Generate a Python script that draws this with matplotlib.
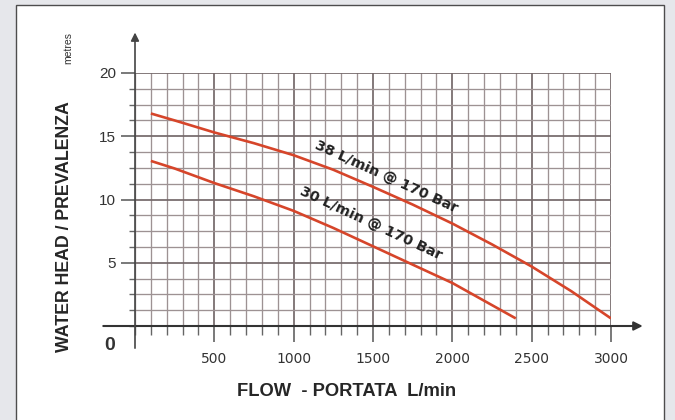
import matplotlib
matplotlib.use("Agg")
import matplotlib.pyplot as plt
from matplotlib.patches import Rectangle
import numpy as np

# ---- data ----
flow_38 = [100, 250, 500, 750, 1000, 1250, 1500, 1750, 2000, 2250, 2500, 2750, 3000]
head_38 = [16.8, 16.25, 15.3, 14.45, 13.5, 12.35, 11.0, 9.6, 8.1, 6.45, 4.7, 2.75, 0.6]

flow_30 = [100, 250, 500, 750, 1000, 1250, 1500, 1750, 2000, 2200, 2400]
head_30 = [13.05, 12.45, 11.3, 10.25, 9.1, 7.75, 6.3, 4.85, 3.4, 2.0, 0.6]

label_38 = "38 L/min @ 170 Bar"
label_30 = "30 L/min @ 170 Bar"

x_major = [500, 1000, 1500, 2000, 2500, 3000]
x_labels = ["500", "1000", "1500", "2000", "2500", "3000"]
y_major = [5, 10, 15, 20]
y_labels = ["5", "10", "15", "20"]

xlabel = "FLOW  - PORTATA  L/min"
ylabel_main = "WATER HEAD / PREVALENZA"
ylabel_unit = "metres"

SANS = ["Liberation Sans", "DejaVu Sans"]

fig = plt.figure(figsize=(6.75, 4.2), dpi=100, facecolor="#e6e7eb")

# white panel with thin border (behind the axes)
panel = Rectangle((15.5 / 675, -0.2), (664 - 15.5) / 675, (415 / 420) + 0.2,
                  transform=fig.transFigure, facecolor="white",
                  edgecolor="#4d4d4d", linewidth=1.0, zorder=-10)
fig.patches.append(panel)

ax = fig.add_axes([135 / 675, (420 - 326) / 420, (611 - 135) / 675, (326 - 73) / 420])
ax.set_zorder(5)
ax.patch.set_visible(False)
ax.set_xlim(0, 3000)
ax.set_ylim(0, 20)
for s in ax.spines.values():
    s.set_visible(False)

ax.set_xticks(x_major)
ax.set_xticklabels(x_labels)
ax.set_xticks(np.arange(0, 3001, 100), minor=True)
ax.set_yticks(y_major)
ax.set_yticklabels(y_labels)
ax.set_yticks(np.arange(0, 20.01, 1.25), minor=True)

ax.tick_params(axis="x", which="major", direction="out", length=11.5, width=1.1,
               color="#555555", pad=7, labelsize=10, labelcolor="#333333")
ax.tick_params(axis="x", which="minor", direction="out", length=6.5, width=1.0,
               color="#666666")
ax.tick_params(axis="y", which="major", direction="out", length=10, width=1.1,
               color="#555555", pad=3.5, labelsize=11, labelcolor="#333333")
ax.tick_params(axis="y", which="minor", direction="out", length=4.3, width=1.0,
               color="#666666")
for t in ax.get_yticklabels():
    t.set_fontfamily(SANS)

ax.grid(which="minor", color="#9d9293", linewidth=0.95)
ax.grid(which="major", color="#74696a", linewidth=1.25)
ax.set_axisbelow(True)

# curves
line_col = "#d6452a"
ax.plot(flow_38, head_38, color=line_col, linewidth=1.9, solid_capstyle="butt", zorder=3)
ax.plot(flow_30, head_30, color=line_col, linewidth=1.9, solid_capstyle="butt", zorder=3)

ax.text(1585, 11.8, label_38, rotation=-24.5, rotation_mode="anchor",
        ha="center", va="center", fontsize=10.3, fontweight="bold",
        color="#222222", family="DejaVu Sans", zorder=4)
ax.text(1488, 8.1, label_30, rotation=-25, rotation_mode="anchor",
        ha="center", va="center", fontsize=10.3, fontweight="bold",
        color="#222222", family="DejaVu Sans", zorder=4)

# axis lines with arrows
ax.annotate("", xy=(3200, 0), xytext=(-200, 0), annotation_clip=False,
            arrowprops=dict(arrowstyle="-|>", color="#333333", lw=1.5,
                            mutation_scale=13, shrinkA=0, shrinkB=0), zorder=5)
ax.annotate("", xy=(0, 23.2), xytext=(0, -1.75), annotation_clip=False,
            arrowprops=dict(arrowstyle="-|>", color="#444444", lw=1.2,
                            mutation_scale=12, shrinkA=0, shrinkB=0), zorder=5)

# origin label
fig.text(110 / 675, (420 - 345) / 420, "0", ha="center", va="center",
         fontsize=14, fontweight="bold", color="#333333", family=SANS)

# axis titles
fig.text(347 / 675, (420 - 392) / 420, xlabel, ha="center", va="center",
         fontsize=13.2, fontweight="bold", color="#262626", family=SANS)
fig.text(64.5 / 675, (420 - 227) / 420, ylabel_main, rotation=90, ha="center",
         va="center", fontsize=12.8, fontweight="bold", color="#262626", family=SANS)
fig.text(68 / 675, (420 - 48) / 420, ylabel_unit, rotation=90, ha="center",
         va="center", fontsize=7.5, color="#333333", family=SANS)

fig.savefig("out.png", dpi=100, facecolor=fig.get_facecolor())
